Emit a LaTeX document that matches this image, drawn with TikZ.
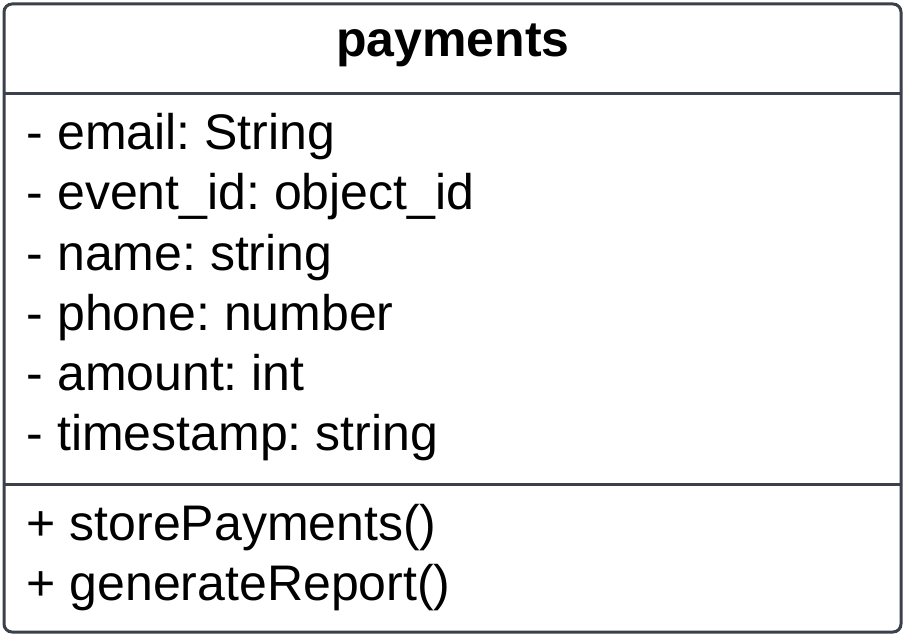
\documentclass[tikz,border=0pt]{standalone}
\usepackage{fontspec}
\setmainfont{Liberation Sans}
\frenchspacing
\definecolor{umlline}{HTML}{3A414A}
\tikzset{
  frame/.style={draw=umlline, line width=3pt, rounded corners=8pt},
  divider/.style={draw=umlline, line width=3pt},
  member/.style={anchor=base west, inner sep=0pt, font=\fontsize{50}{60}\selectfont\frenchspacing, text=black},
  title/.style={anchor=base, inner sep=0pt, font=\fontsize{50}{60}\selectfont\bfseries, text=black}
}
\begin{document}
\begin{tikzpicture}[x=1pt, y=-1pt]
\useasboundingbox (0,0) rectangle (904,636);
\fill[white] (0,0) rectangle (904,636);
\coordinate (tl) at (4,4);
\coordinate (br) at (901,632);
\draw[frame] (tl) rectangle (br);
\coordinate (d1a) at (4,93.5);
\coordinate (d1b) at (901,93.5);
\coordinate (d2a) at (4,484);
\coordinate (d2b) at (901,484);
\draw[divider] (d1a) -- (d1b);
\draw[divider] (d2a) -- (d2b);
\node[title] (name) at (453,57) {payments};
\node[member] (a1) at (26.5,150) {- email: String};
\node[member] (a2) at (26.5,210) {- event\_id: object\_id};
\node[member] (a3) at (26.5,270) {- name: string};
\node[member] (a4) at (26.5,330) {- phone: number};
\node[member] (a5) at (26.5,390) {- amount: int};
\node[member] (a6) at (26.5,450) {- timestamp: string};
\node[member] (m1) at (26.5,540) {+ storePayments()};
\node[member] (m2) at (26.5,600) {+ generateReport()};
\end{tikzpicture}
\end{document}
